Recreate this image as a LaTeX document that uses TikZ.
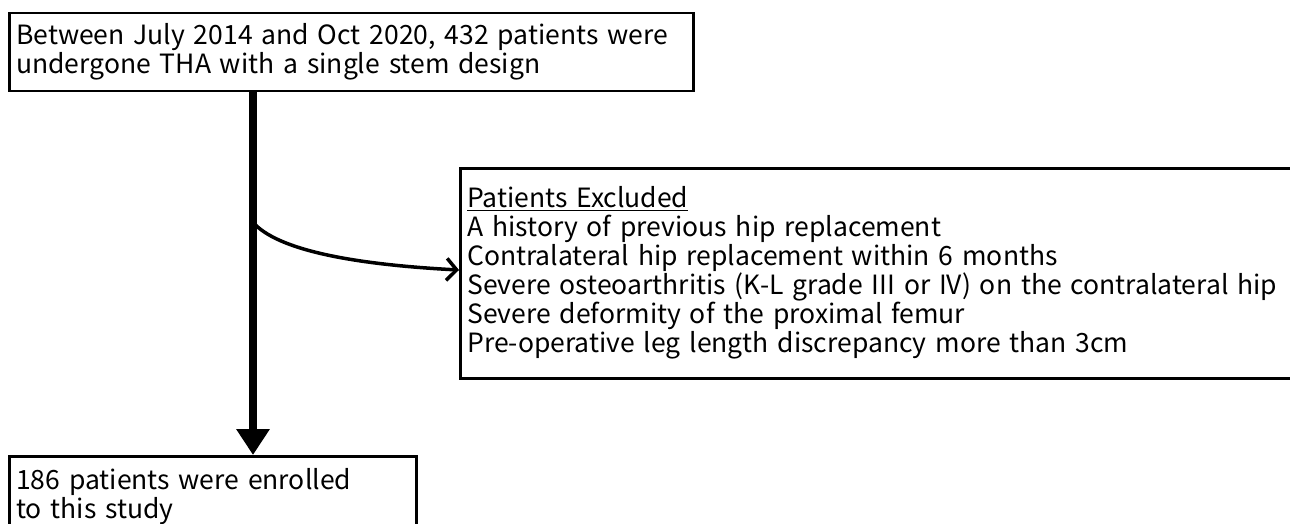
\documentclass[tikz,border=0pt]{standalone}
\usepackage{fontspec}
\setmainfont{Noto Sans CJK KR}
\usetikzlibrary{arrows.meta,calc}
\begin{document}
\begin{tikzpicture}[x=1pt,y=-1pt,
  box/.style={draw,line width=2.5pt,anchor=north west,align=left,inner xsep=6pt,inner ysep=6pt,
    font=\fontsize{26.5}{29}\selectfont},
  flow/.style={line width=8pt,-{Triangle[length=26pt,width=32pt]}},
  branch/.style={line width=3.5pt,-{Straight Barb[length=10pt,width=22pt,line width=3.5pt]}}]
\useasboundingbox (0,0) rectangle (1290,524);
\node[box,minimum width=684pt,minimum height=78pt,text width=670pt] (b1) at (8,12)
  {Between July 2014 and Oct 2020, 432 patients were\\undergone THA with a single stem design};
\node[box,minimum width=900pt,minimum height=210pt,text width=886pt] (b2) at (459,167)
  {\underline{Patients Excluded}\\A history of previous hip replacement\\Contralateral hip replacement within 6 months\\Severe osteoarthritis (K-L grade III or IV) on the contralateral hip\\Severe deformity of the proximal femur\\Pre-operative leg length discrepancy more than 3cm};
\node[box,minimum width=407pt,minimum height=80pt,text width=393pt] (b3) at (8,455)
  {186 patients were enrolled\\to this study};
\coordinate (top) at ($(b1.south west)+(245,0)$);
\coordinate (bot) at ($(b3.north west)+(245,0)$);
\coordinate (br) at ($(top)+(2,132)$);
\coordinate (end) at ($(b2.west|-0,270)$);
\draw[flow] (top) -- (bot);
\draw[branch] (br) .. controls ($(br)+(28,28)$) and ($(end)+(-95,-5)$) .. (end);
\end{tikzpicture}
\end{document}
